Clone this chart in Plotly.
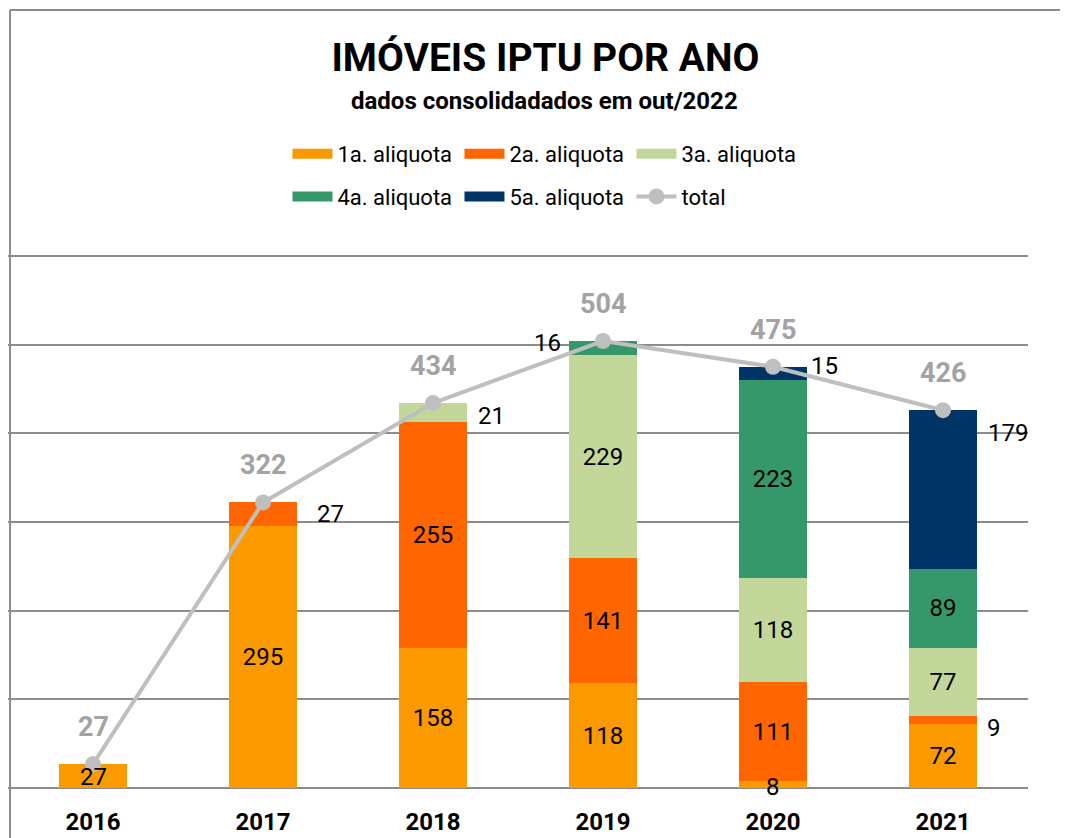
import plotly.graph_objects as go

# dados do grafico
anos = [2016, 2017, 2018, 2019, 2020, 2021]
series = ['1a. aliquota', '2a. aliquota', '3a. aliquota', '4a. aliquota', '5a. aliquota']
aliq1 = [27, 295, 158, 118, 8, 72]
aliq2 = [0, 27, 255, 141, 111, 9]
aliq3 = [0, 0, 21, 229, 118, 77]
aliq4 = [0, 0, 0, 16, 223, 89]
aliq5 = [0, 0, 0, 0, 15, 179]
total = [27, 322, 434, 504, 475, 426]

valores = [aliq1, aliq2, aliq3, aliq4, aliq5]
cores = ['#FA9A00', '#FF6600', '#C4D79B', '#35986A', '#003366']

FONT = 'Roboto, sans-serif'

# rotulos pequenos ficam fora da barra (serie, ano) -> (xshift, yshift)
desloc = {
    (0, 2016): (0, -1),
    (1, 2017): (67, 0),
    (2, 2018): (58, -4),
    (3, 2019): (-56, 5),
    (4, 2020): (51, 7),
    (0, 2020): (0, -3),
    (1, 2021): (51, -8),
    (4, 2021): (65, 57),
}

fig = go.Figure()
for i, nome in enumerate(series):
    vals = valores[i]
    txt = [str(v) if v > 0 and (i, a) not in desloc else '' for v, a in zip(vals, anos)]
    fig.add_trace(go.Bar(
        x=anos, y=vals, name=nome, legendgroup=nome, showlegend=False,
        marker=dict(color=cores[i], line=dict(width=0)),
        text=txt, textposition='inside', insidetextanchor='middle',
        textfont=dict(size=24, color='black', family=FONT),
    ))
    # entrada de legenda com simbolo largo
    fig.add_trace(go.Scatter(
        x=[None], y=[None], name=nome, legendgroup=nome, mode='lines',
        line=dict(color=cores[i], width=12), hoverinfo='skip',
        legend='legend' if i < 3 else 'legend2',
    ))

fig.add_trace(go.Scatter(
    x=anos, y=total, name='total', mode='lines+markers',
    line=dict(color='#BFBFBF', width=4),
    marker=dict(color='#BFBFBF', size=16),
    legend='legend2',
))

annots = []
base = [0] * len(anos)
for i in range(len(series)):
    for j, a in enumerate(anos):
        v = valores[i][j]
        if (i, a) in desloc:
            dx, dy = desloc[(i, a)]
            annots.append(dict(x=a, y=base[j] + v / 2, text=str(v), showarrow=False,
                               xshift=dx, yshift=dy,
                               font=dict(size=24, color='black', family=FONT)))
        base[j] += v

for a, t in zip(anos, total):
    annots.append(dict(x=a, y=t, text=str(t), showarrow=False, yshift=37,
                       font=dict(size=27, color='#A3A3A3', family=FONT, weight='bold')))

annots.append(dict(xref='paper', yref='paper', x=0.526, y=1.270, yanchor='middle',
                   text='dados consolidadados em out/2022', showarrow=False,
                   font=dict(size=24, color='black', family=FONT, weight='bold')))

leg = dict(orientation='h', xanchor='left', yanchor='top', x=0.274,
           font=dict(size=22, family=FONT, color='black'), bgcolor='rgba(0,0,0,0)',
           itemwidth=40, traceorder='normal', entrywidth=117)

fig.update_layout(
    width=1060, height=830,
    title=dict(text='IMÓVEIS IPTU POR ANO', x=0.507, xanchor='center',
               y=0.94, yanchor='middle',
               font=dict(size=39, color='black', family=FONT, weight='bold')),
    barmode='stack', bargap=0.6,
    plot_bgcolor='white', paper_bgcolor='white',
    margin=dict(l=0, r=40, t=239, b=50),
    font=dict(family=FONT, color='black'),
    xaxis=dict(range=[2015.5, 2021.5], tickvals=anos, showgrid=False, ticks='',
               showline=False, zeroline=False, automargin=False,
               tickfont=dict(size=24, color='black', family=FONT, weight='bold'),
               ticklabelstandoff=17),
    yaxis=dict(range=[0, 610], dtick=100, showticklabels=False, showgrid=True,
               gridcolor='#8C8C8C', gridwidth=2, zeroline=True, automargin=False,
               zerolinecolor='#8C8C8C', zerolinewidth=2),
    legend=dict(leg, y=1.211),
    legend2=dict(leg, y=1.132),
    annotations=annots,
    shapes=[
        dict(type='line', xref='paper', yref='paper', x0=0.002, x1=0.002,
             y0=1.438, y1=-0.1, line=dict(color='#8C8C8C', width=2)),
        dict(type='line', xref='paper', yref='paper', x0=0.002, x1=1.04,
             y0=1.438, y1=1.438, line=dict(color='#8C8C8C', width=2)),
    ],
)

fig.write_html('out.html')
